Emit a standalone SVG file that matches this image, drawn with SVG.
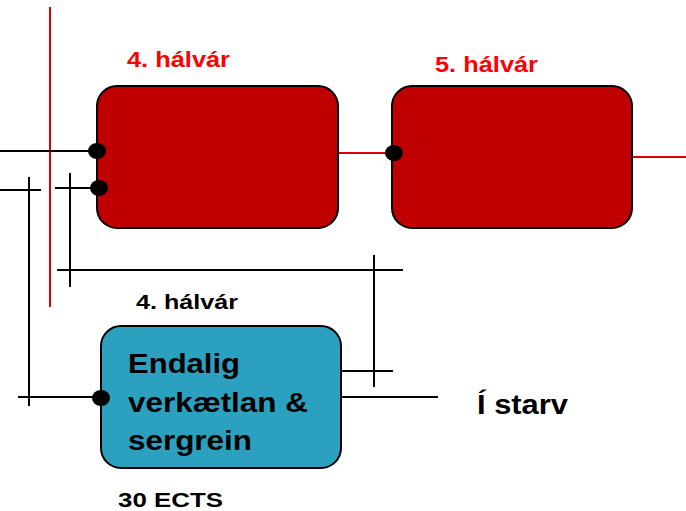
<svg xmlns="http://www.w3.org/2000/svg" width="686" height="511" viewBox="0 0 686 511">
<style>
.box{stroke:#000;stroke-width:2}
.red{fill:#C00000}
.teal{fill:#2CA1BF}
.ln{stroke:#000;stroke-width:2;fill:none}
.rl{stroke:#E00000;stroke-width:2;fill:none}
.t{font-family:"Liberation Sans",Arial,sans-serif;font-weight:bold}
.dot{fill:#000}
</style>
<rect width="686" height="511" fill="#fff"/>
<g id="connectors">
<line class="rl" x1="50" y1="7" x2="50" y2="307"/>
<line class="ln" x1="0" y1="151" x2="97" y2="151"/>
<line class="ln" x1="0" y1="190" x2="41" y2="190"/>
<line class="ln" x1="29" y1="177" x2="29" y2="406"/>
<line class="ln" x1="55" y1="188" x2="99" y2="188"/>
<line class="ln" x1="70" y1="173" x2="70" y2="287"/>
<line class="ln" x1="57" y1="270" x2="403" y2="270"/>
<line class="ln" x1="374" y1="255" x2="374" y2="387"/>
<line class="ln" x1="341" y1="371" x2="393" y2="371"/>
<line class="ln" x1="341" y1="397" x2="438" y2="397"/>
<line class="ln" x1="18" y1="397" x2="101" y2="397"/>
<line class="rl" x1="337" y1="153" x2="394" y2="153"/>
<line class="rl" x1="632" y1="157" x2="686" y2="157"/>
</g>
<g id="node-4halvar">
<rect class="box red" x="97" y="86" width="241" height="142" rx="20" ry="20"/>
<text class="t" x="127" y="67" font-size="22" fill="#FF0000" textLength="103" lengthAdjust="spacingAndGlyphs">4. hálvár</text>
</g>
<g id="node-5halvar">
<rect class="box red" x="392" y="86" width="240" height="142" rx="20" ry="20"/>
<text class="t" x="435" y="72" font-size="22" fill="#FF0000" textLength="103" lengthAdjust="spacingAndGlyphs">5. hálvár</text>
</g>
<g id="node-endalig">
<rect class="box teal" x="101" y="326" width="240" height="142" rx="20" ry="20"/>
<text class="t" x="128" y="373" font-size="28" fill="#000" textLength="112" lengthAdjust="spacingAndGlyphs">Endalig</text>
<text class="t" x="128" y="412" font-size="28" fill="#000" textLength="180" lengthAdjust="spacingAndGlyphs">verkætlan &amp;</text>
<text class="t" x="128" y="450" font-size="28" fill="#000" textLength="124" lengthAdjust="spacingAndGlyphs">sergrein</text>
<text class="t" x="136" y="309" font-size="21" fill="#000" textLength="102" lengthAdjust="spacingAndGlyphs">4. hálvár</text>
<text class="t" x="118" y="507" font-size="20" fill="#000" textLength="105" lengthAdjust="spacingAndGlyphs">30 ECTS</text>
</g>
<g id="node-istarv">
<text class="t" x="477" y="414" font-size="28" fill="#000" textLength="91" lengthAdjust="spacingAndGlyphs">Í starv</text>
</g>
<g id="dots">
<ellipse class="dot" cx="97" cy="151" rx="9" ry="8"/>
<ellipse class="dot" cx="99" cy="188" rx="9" ry="8"/>
<ellipse class="dot" cx="394" cy="153" rx="9" ry="8"/>
<ellipse class="dot" cx="101" cy="398" rx="9" ry="8"/>
</g>
</svg>
